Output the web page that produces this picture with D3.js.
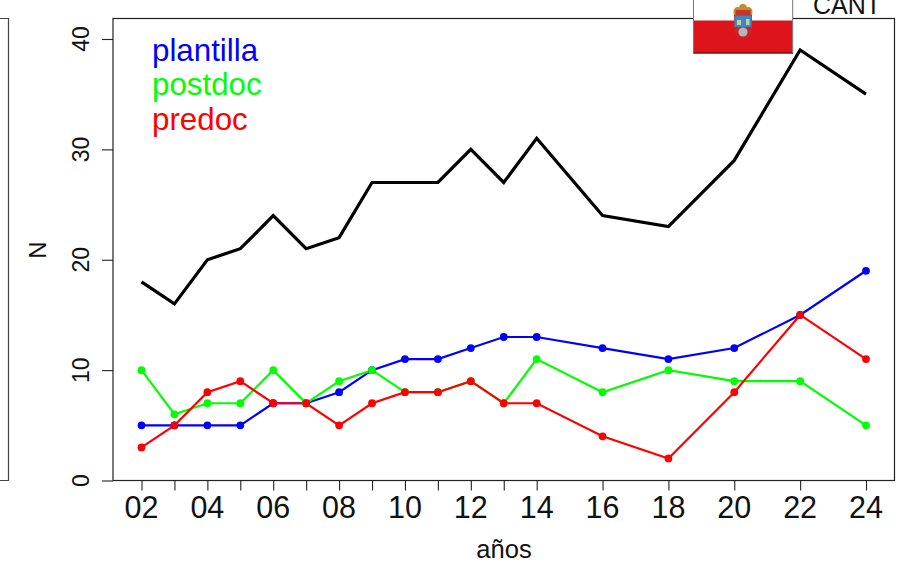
<!DOCTYPE html>
<html><head><meta charset="utf-8">
<script src="https://cdn.jsdelivr.net/npm/d3@7"></script>
<style>html,body{margin:0;padding:0;background:#fff}svg{display:block}text{font-family:"Liberation Sans",Arial,sans-serif}</style>
</head><body><svg id="c" width="902" height="564"></svg>
<script>
const years=[2,3,4,5,6,7,8,9,10,11,12,13,14,16,18,20,22,24];
const total=[18,16,20,21,24,21,22,27,27,27,30,27,31,24,23,29,39,35];
const plantilla=[5,5,5,5,7,7,8,10,11,11,12,13,13,12,11,12,15,19];
const postdoc=[10,6,7,7,10,7,9,10,8,8,9,7,11,8,10,9,9,5];
const predoc=[3,5,8,9,7,7,5,7,8,8,9,7,7,4,2,8,15,11];
const labeledYears=[2,4,6,8,10,12,14,16,18,20,22,24];
const yTicks=[0,10,20,30,40];
const legendNames=["plantilla","postdoc","predoc"];
const legendColors=["#0000ff","#00ff00","#ff0000"];

const svg=d3.select("#c");
const box={l:113,r:894.5,t:18.5,b:480.5};
const x=d3.scaleLinear().domain([2,24]).range([141.5,866]);
const y=d3.scaleLinear().domain([0,40]).range([480.5,39]);

// left neighbouring panel edge
svg.append("path").attr("d","M0,18.5H8.5V480.5H0").attr("fill","none").attr("stroke","#444").attr("stroke-width",1.2);
// plot box
svg.append("rect").attr("x",box.l).attr("y",box.t).attr("width",box.r-box.l).attr("height",box.b-box.t)
  .attr("fill","none").attr("stroke","#222").attr("stroke-width",1.2);

// axes
const gx=svg.append("g").attr("transform",`translate(0,${box.b})`)
  .call(d3.axisBottom(x).tickValues(years.filter(d=>d<=14||d%2==0)).tickSize(10).tickPadding(0).tickFormat(()=>""));
gx.select(".domain").remove();
gx.selectAll("line").attr("stroke","#222").attr("stroke-width",1.1);
svg.selectAll(".xl").data(labeledYears).join("text").attr("class","xl")
  .attr("x",d=>x(d)).attr("y",518).attr("text-anchor","middle").attr("font-size",30.5).attr("fill","#111")
  .text(d=>String(d).padStart(2,"0"));

const gy=svg.append("g").attr("transform",`translate(${box.l},0)`)
  .call(d3.axisLeft(y).tickValues(yTicks).tickSize(11).tickFormat(()=>""));
gy.select(".domain").remove();
gy.selectAll("line").attr("stroke","#222").attr("stroke-width",1.1);
svg.selectAll(".yl").data(yTicks).join("text").attr("class","yl")
  .attr("transform",d=>`translate(88.5,${y(d)}) rotate(-90)`).attr("text-anchor","middle")
  .attr("font-size",23).attr("fill","#111").text(d=>d);

svg.append("text").attr("transform","translate(45.5,250) rotate(-90)").attr("text-anchor","middle")
  .attr("font-size",24).attr("fill","#111").text("N");
svg.append("text").attr("x",504).attr("y",558).attr("text-anchor","middle")
  .attr("font-size",25.5).attr("fill","#111").text("años");

// lines
const line=d3.line().x((d,i)=>x(years[i])).y(d=>y(d));
svg.append("path").datum(total).attr("d",line).attr("fill","none").attr("stroke","#000").attr("stroke-width",3.2);
[plantilla,postdoc,predoc].forEach((s,k)=>{
  svg.append("path").datum(s).attr("d",line).attr("fill","none").attr("stroke",legendColors[k]).attr("stroke-width",2.2);
});
[plantilla,postdoc,predoc].forEach((s,k)=>{
  svg.selectAll(".p"+k).data(s).join("circle").attr("class","p"+k)
    .attr("cx",(d,i)=>x(years[i])).attr("cy",d=>y(d)).attr("r",3.9).attr("fill",legendColors[k]);
});

// legend
svg.selectAll(".lg").data(legendNames).join("text").attr("class","lg")
  .attr("x",152).attr("y",(d,i)=>61+i*34.3).attr("font-size",31.3)
  .attr("fill",(d,i)=>legendColors[i]).text(d=>d);

// flag of Cantabria
const f=svg.append("g");
f.append("rect").attr("x",693.5).attr("y",-5).attr("width",99).attr("height",58).attr("fill","#fff");
f.append("rect").attr("x",694).attr("y",20.5).attr("width",98.5).attr("height",32.5).attr("fill","#dd141c");
f.append("path").attr("d","M693,53H793").attr("stroke","#7a1010").attr("stroke-width",1.4);
f.append("path").attr("d","M693.5,-5V53M792.7,-5V53").attr("stroke","#777").attr("stroke-width",1).attr("fill","none");
// crest
f.append("path").attr("d","M734,15C732,8 737,6 739,7.5C740,2.5 746,2.5 747,7.5C749,6 754,8 752,15Z").attr("fill","#c98a2a");
f.append("path").attr("d","M735.5,10H750.5V15H735.5Z").attr("fill","#c4362a");
f.append("path").attr("d","M734,15H752V29C752,35 747,37.5 743,37.5C739,37.5 734,35 734,29Z").attr("fill","#c9242a");
f.append("rect").attr("x",734.5).attr("y",15.5).attr("width",17).attr("height",11.5).attr("fill","#3f86c4");
f.append("path").attr("d","M737,25V20H741V25ZM746,25V19H749.5V25Z").attr("fill","#c9cf9a");
f.append("circle").attr("cx",743).attr("cy",32).attr("r",4.6).attr("fill","#b5b5b5");

svg.append("text").attr("x",813).attr("y",14).attr("font-size",25).attr("fill","#111").text("CANT");
</script></body></html>
